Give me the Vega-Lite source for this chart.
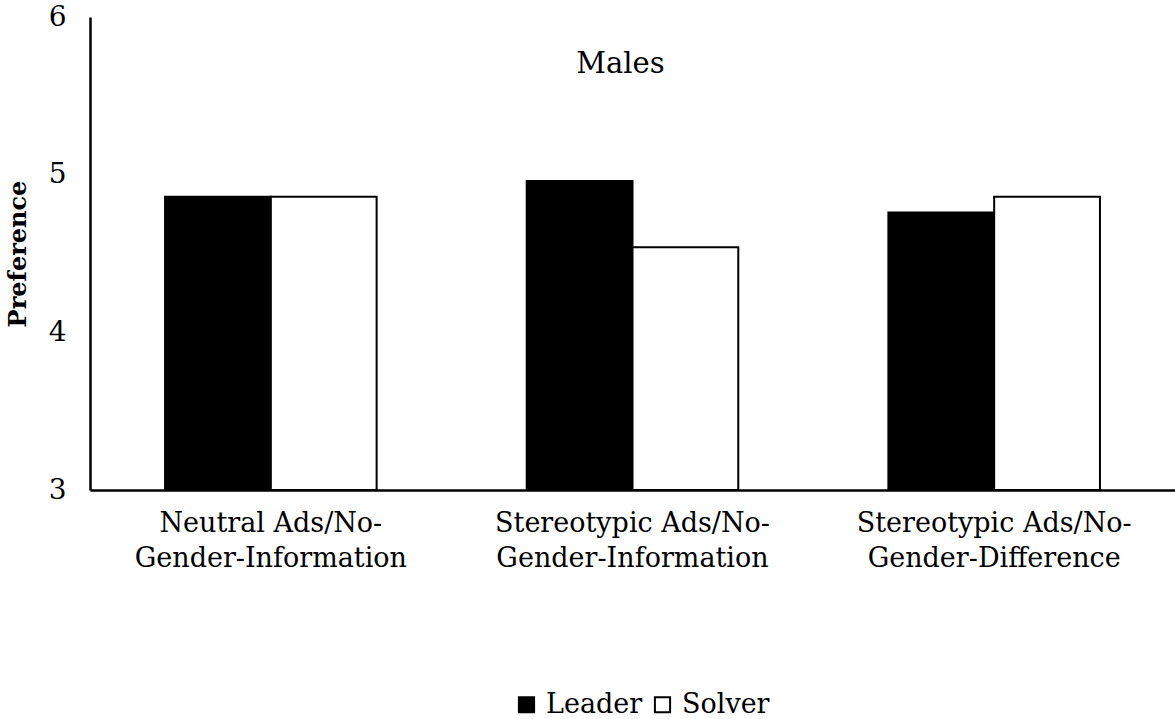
{
  "$schema": "https://vega.github.io/schema/vega-lite/v6.json",
  "autosize": "none",
  "width": 1085,
  "height": 473,
  "padding": {"left": 90, "top": 17, "right": 0, "bottom": 229},
  "background": "white",
  "config": {
    "view": {"stroke": null},
    "font": "DejaVu Serif"
  },
  "layer": [
    {
      "data": {
        "values": [
          {"condition": "Neutral Ads/No-|Gender-Information", "role": "Leader", "preference": 4.86},
          {"condition": "Neutral Ads/No-|Gender-Information", "role": "Solver", "preference": 4.86},
          {"condition": "Stereotypic Ads/No-|Gender-Information", "role": "Leader", "preference": 4.96},
          {"condition": "Stereotypic Ads/No-|Gender-Information", "role": "Solver", "preference": 4.54},
          {"condition": "Stereotypic Ads/No-|Gender-Difference", "role": "Leader", "preference": 4.76},
          {"condition": "Stereotypic Ads/No-|Gender-Difference", "role": "Solver", "preference": 4.86}
        ]
      },
      "mark": {"type": "bar", "stroke": "black", "strokeWidth": 2},
      "encoding": {
        "x": {
          "field": "condition",
          "type": "nominal",
          "sort": null,
          "scale": {"paddingInner": 0.415, "paddingOuter": 0.2075},
          "axis": {
            "title": null,
            "labelAngle": 0,
            "labelExpr": "split(datum.label, '|')",
            "labelFontSize": 27,
            "labelLimit": 0,
            "labelLineHeight": 35,
            "labelColor": "black",
            "labelPadding": 20,
            "ticks": false,
            "domainColor": "black",
            "domainWidth": 2.5
          }
        },
        "xOffset": {"field": "role", "type": "nominal", "scale": {"paddingInner": 0, "paddingOuter": 0}},
        "y": {
          "field": "preference",
          "type": "quantitative",
          "scale": {"domain": [3, 6], "zero": false, "nice": false},
          "axis": {
            "title": "Preference",
            "titleFontSize": 24,
            "titleFontWeight": "bold",
            "titleColor": "black",
            "titlePadding": 18,
            "values": [3, 4, 5, 6],
            "format": "d",
            "labelFontSize": 28,
            "labelColor": "black",
            "labelPadding": 24,
            "ticks": false,
            "grid": false,
            "domainColor": "black",
            "domainWidth": 2.5
          }
        },
        "y2": {"datum": 3},
        "color": {
          "field": "role",
          "type": "nominal",
          "scale": {"domain": ["Leader", "Solver"], "range": ["black", "white"]},
          "legend": {
            "title": null,
            "orient": "none",
            "direction": "horizontal",
            "legendX": 423,
            "legendY": 674,
            "symbolType": "square",
            "symbolSize": 230,
            "symbolStrokeColor": "black",
            "symbolStrokeWidth": 2,
            "labelFontSize": 27,
            "labelColor": "black",
            "labelOffset": 6,
            "columnPadding": 6
          }
        }
      }
    },
    {
      "data": {"values": [{"label": "Males", "y": 5.7}]},
      "mark": {"type": "text", "fontSize": 29, "color": "black", "dx": -12},
      "encoding": {
        "text": {"field": "label"},
        "y": {"field": "y", "type": "quantitative"}
      }
    }
  ]
}
